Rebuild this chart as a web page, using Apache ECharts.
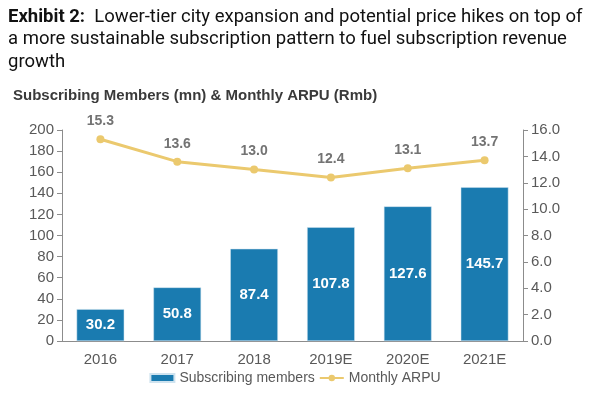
<!DOCTYPE html>
<html><head><meta charset="utf-8">
<script src="https://cdn.jsdelivr.net/npm/echarts@6/dist/echarts.min.js"></script>
<style>
html,body{margin:0;padding:0;background:#fff;}
#c{width:590px;height:402px;}
</style></head>
<body><div id="c"></div>
<script>
const categories = ['2016','2017','2018','2019E','2020E','2021E'];
const members = [30.2, 50.8, 87.4, 107.8, 127.6, 145.7];
const arpu = [15.3, 13.6, 13.0, 12.4, 13.1, 13.7];
const leftTicks = {min:0, max:200, interval:20};
const rightTicks = {min:0, max:16, interval:2};

const chart = echarts.init(document.getElementById('c'));
const axisCol = '#8c8c8c';
const labCol = '#595959';
chart.setOption({
  animation:false,
  title:[
    {text:'{b|Exhibit 2:}  Lower-tier city expansion and potential price hikes on top of\na more sustainable subscription pattern to fuel subscription revenue\ngrowth',
     left:3, top:1,
     textStyle:{fontFamily:'Roboto', fontSize:18.5, fontWeight:'normal', color:'#111', lineHeight:22.5,
       rich:{b:{fontFamily:'Roboto', fontSize:18.5, fontWeight:'bold', color:'#111'}}}},
    {text:'Subscribing Members (mn) & Monthly ARPU (Rmb)', left:8, top:83,
     textStyle:{fontFamily:'Liberation Sans', fontSize:15, fontWeight:'bold', color:'#3a3a3a'}}
  ],
  legend:{
    bottom:12, left:'center', itemGap:4, itemWidth:24, itemHeight:8,
    textStyle:{fontFamily:'Liberation Sans', fontSize:14, color:labCol},
    data:[{name:'Subscribing members', icon:'rect'},{name:'Monthly ARPU'}]
  },
  grid:{left:62, right:67, top:130, bottom:61, containLabel:false},
  xAxis:{type:'category', data:categories,
    axisLine:{lineStyle:{color:axisCol}}, axisTick:{show:false},
    axisLabel:{fontFamily:'Liberation Sans', fontSize:15, color:labCol, margin:11}},
  yAxis:[
    {type:'value', min:leftTicks.min, max:leftTicks.max, interval:leftTicks.interval,
     splitLine:{show:false}, axisLine:{show:true, lineStyle:{color:axisCol}},
     axisTick:{show:true, inside:false, length:5, lineStyle:{color:axisCol}},
     axisLabel:{fontFamily:'Liberation Sans', fontSize:15, color:labCol, margin:8}},
    {type:'value', min:rightTicks.min, max:rightTicks.max, interval:rightTicks.interval,
     splitLine:{show:false}, axisLine:{show:true, lineStyle:{color:axisCol}},
     axisTick:{show:true, inside:false, length:5, lineStyle:{color:axisCol}},
     axisLabel:{fontFamily:'Liberation Sans', fontSize:15, color:labCol, margin:8,
       formatter:v=>v.toFixed(1)}}
  ],
  series:[
    {name:'Subscribing members', type:'bar', data:members, barWidth:'62%',
     itemStyle:{color:'#1a7bb0', borderColor:'#cfe3ef', borderWidth:0.5},
     label:{show:true, position:'inside', formatter:p=>p.value.toFixed(1),
       fontFamily:'Liberation Sans', fontSize:15, fontWeight:'bold', color:'#fff'}},
    {name:'Monthly ARPU', type:'line', yAxisIndex:1, data:arpu,
     symbol:'circle', symbolSize:8,
     lineStyle:{color:'#ebc96e', width:3}, itemStyle:{color:'#ebc96e'},
     label:{show:true, position:'top', distance:7, formatter:p=>p.value.toFixed(1),
       fontFamily:'Liberation Sans', fontSize:14, fontWeight:'bold', color:'#737373'}}
  ]
});
</script></body></html>
